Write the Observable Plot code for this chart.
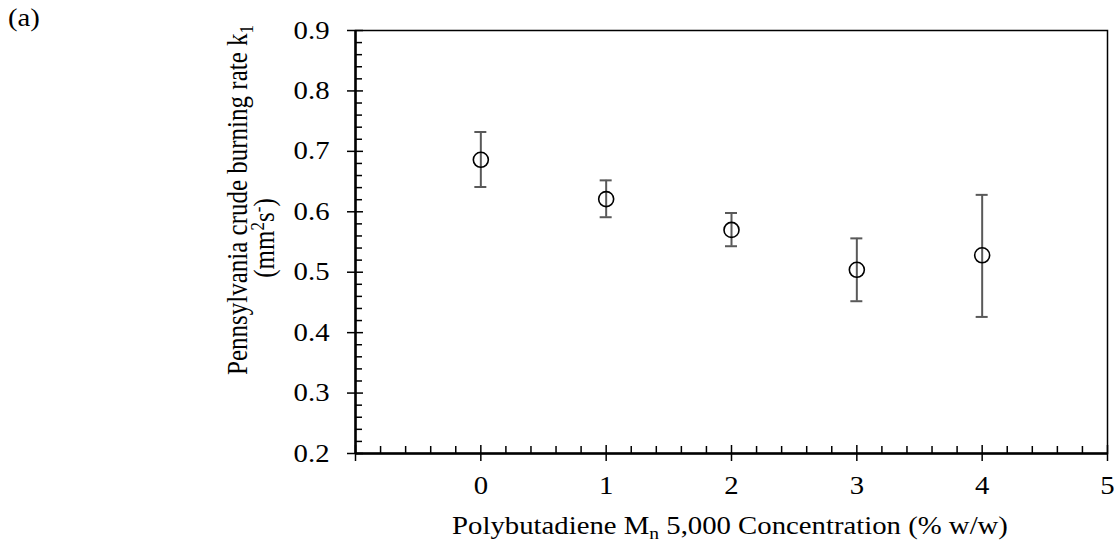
<!DOCTYPE html>
<html><head><meta charset="utf-8">
<script src="https://cdn.jsdelivr.net/npm/d3@7"></script>
<script src="https://cdn.jsdelivr.net/npm/@observablehq/plot@0.6"></script>
<style>
body{margin:0;background:#fff;}
#chart{position:relative;width:1114px;height:546px;}
</style></head><body><div id="chart"></div>
<script>
// Data
const concentration = [0, 1, 2, 3, 4];
const burningRate = [0.686, 0.621, 0.570, 0.504, 0.528];
const errLow = [0.641, 0.591, 0.543, 0.452, 0.426];
const errHigh = [0.732, 0.652, 0.598, 0.556, 0.628];
const xMajorTicks = [0, 1, 2, 3, 4, 5];
const xMajorTickMarks = [-1, 0, 1, 2, 3, 4, 5];
const xMinorTicks = [-0.8,-0.6,-0.4,-0.2,0.2,0.4,0.6,0.8,1.2,1.4,1.6,1.8,2.2,2.4,2.6,2.8,3.2,3.4,3.6,3.8,4.2,4.4,4.6,4.8];
const yMajorTicks = [0.2, 0.3, 0.4, 0.5, 0.6, 0.7, 0.8, 0.9];
const yMinorTicks = [0.22,0.24,0.26,0.28,0.32,0.34,0.36,0.38,0.42,0.44,0.46,0.48,0.52,0.54,0.56,0.58,0.62,0.64,0.66,0.68,0.72,0.74,0.76,0.78,0.82,0.84,0.86,0.88];
const xTitleMain = "Polybutadiene M";
const xTitleSub = "n";
const xTitleRest = " 5,000 Concentration (% w/w)";
const yTitleLine1 = "Pennsylvania crude burning rate k";
const yTitleLine1Sub = "1";
const panelLabel = "(a)";

const table = concentration.map((c, i) => ({c, k: burningRate[i], lo: errLow[i], hi: errHigh[i]}));
const FONT = "'Liberation Serif','Times New Roman',serif";
const FS = 25;
const SUBFS = 17;
const STRETCH = 1.15;

const plot = Plot.plot({
  width: 1114, height: 546,
  marginLeft: 355, marginRight: 7, marginTop: 30, marginBottom: 93,
  x: {domain: [-1, 5], label: null},
  y: {domain: [0.2, 0.9], label: null},
  style: {fontFamily: FONT, fontSize: FS + "px", color: "black", background: "white", overflow: "visible"},
  marks: [
    Plot.frame({stroke: "black", strokeWidth: 1.5}),
    Plot.ruleX(xMinorTicks, {x: d => d, y1: 0.2, y2: 0.2, insetTop: -7, stroke: "black", strokeWidth: 1.5}),
    Plot.axisX(xMajorTickMarks, {tickSize: 16, dy: -8, tickFormat: () => "", strokeWidth: 1.5, label: null}),
    Plot.axisX(xMajorTicks, {tickSize: 0, tickPadding: 23, tickFormat: d => String(d), label: null, fontSize: FS}),
    Plot.axisY(yMinorTicks, {tickSize: 7, dx: 7, tickFormat: () => "", strokeWidth: 1.5, label: null}),
    Plot.axisY(yMajorTicks, {tickSize: 16, dx: 8, tickFormat: () => "", strokeWidth: 1.5, label: null}),
    Plot.axisY(yMajorTicks, {tickSize: 0, tickPadding: 26, tickFormat: d3.format(".1f"), label: null, fontSize: FS}),
    Plot.ruleY([0.2], {stroke: "black", strokeWidth: 2.5}),
    Plot.ruleX([-1], {stroke: "black", strokeWidth: 2.5}),
    Plot.ruleX(table, {x: "c", y1: "lo", y2: "hi", stroke: "#595959", strokeWidth: 2}),
    Plot.ruleY(table, {y: "hi", x1: "c", x2: "c", insetLeft: -6, insetRight: -6, stroke: "#595959", strokeWidth: 2}),
    Plot.ruleY(table, {y: "lo", x1: "c", x2: "c", insetLeft: -6, insetRight: -6, stroke: "#595959", strokeWidth: 2}),
    Plot.dot(table, {x: "c", y: "k", r: 7.5, stroke: "black", fill: "none", strokeWidth: 1.6})
  ]
});

// horizontally stretch tick labels around their anchor
d3.select(plot).selectAll("text").each(function() {
  const t = this.getAttribute("transform") || "";
  this.setAttribute("transform", t + ` scale(${STRETCH},1)`);
});

const svg = d3.select(plot);
// x title
const xt = svg.append("text")
  .attr("transform", `translate(730,534) scale(${STRETCH},1)`)
  .attr("text-anchor", "middle").attr("font-family", FONT).attr("font-size", FS).attr("fill", "black");
xt.append("tspan").text(xTitleMain);
xt.append("tspan").attr("font-size", SUBFS).attr("dy", 5).text(xTitleSub);
xt.append("tspan").attr("dy", -5).text(xTitleRest);

// y title line 1
const y1 = svg.append("text")
  .attr("transform", `translate(247,200) scale(${STRETCH},1) rotate(-90)`)
  .attr("text-anchor", "middle").attr("font-family", FONT).attr("font-size", FS).attr("fill", "black");
y1.append("tspan").text(yTitleLine1);
y1.append("tspan").attr("font-size", SUBFS).attr("dy", 5).text(yTitleLine1Sub);

// y title line 2
const y2 = svg.append("text")
  .attr("transform", `translate(274,238) scale(${STRETCH},1) rotate(-90)`)
  .attr("text-anchor", "middle").attr("font-family", FONT).attr("font-size", FS).attr("fill", "black");
y2.append("tspan").text("(mm");
y2.append("tspan").attr("font-size", SUBFS).attr("dy", -9).text("2");
y2.append("tspan").attr("dy", 9).text("s");
y2.append("tspan").attr("font-size", SUBFS).attr("dy", -9).text("-");
y2.append("tspan").attr("dy", 9).text(")");

// panel label
svg.append("text")
  .attr("transform", `translate(8,26) scale(${STRETCH},1)`)
  .attr("text-anchor", "start")
  .attr("font-family", FONT).attr("font-size", FS).attr("fill", "black")
  .text(panelLabel);

document.getElementById("chart").append(plot);
</script></body></html>
